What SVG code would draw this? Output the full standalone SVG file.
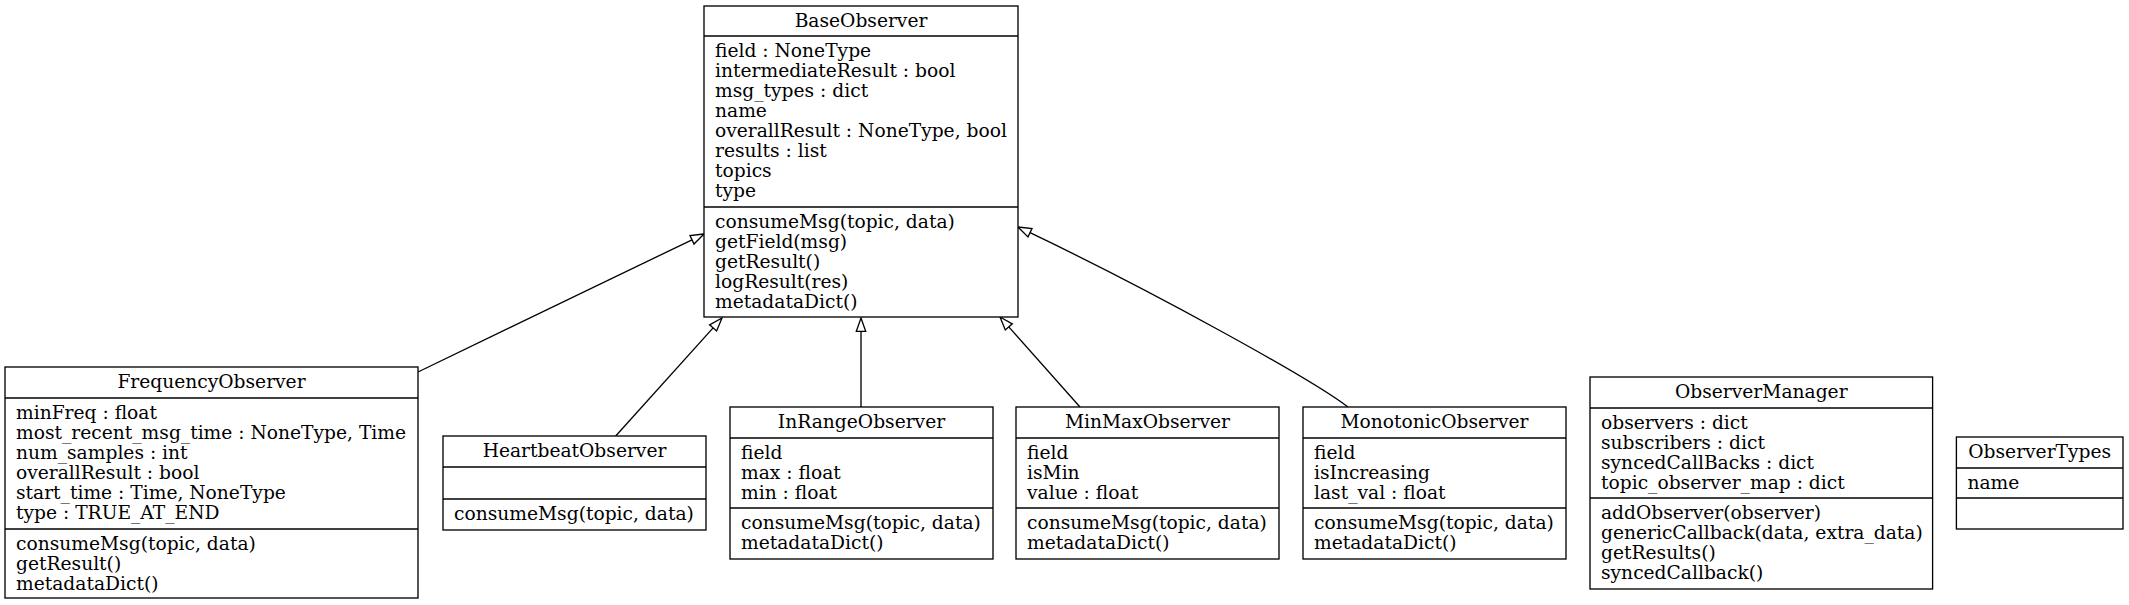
<svg xmlns="http://www.w3.org/2000/svg" width="2129" height="605" viewBox="0 0 2129 605">
<style>
rect.b{fill:#fff;stroke:#000;stroke-width:1.33}
line.s{stroke:#000;stroke-width:1.33}
text{font-family:"DejaVu Serif",serif;font-size:18.67px;fill:#000}
text.t{text-anchor:middle}
.e{fill:none;stroke:#000;stroke-width:1.33}
.h{fill:#fff;stroke:#000;stroke-width:1.33}
</style>
<rect width="2129" height="605" fill="#fff"/>
<g id="connectors">
<path class="e" d="M418,372 L692,239.8"/>
<polygon class="h" points="704,234 694,244 690,235.6"/>
<path class="e" d="M615.7,436 L713.1,327.9"/>
<polygon class="h" points="722,318 716.6,331 709.6,324.8"/>
<path class="e" d="M861,407 L861,331.3"/>
<polygon class="h" points="861,318 865.7,331.3 856.3,331.3"/>
<path class="e" d="M1080,407 L1008.8,326.9"/>
<polygon class="h" points="1000,317 1012.3,323.8 1005.3,330"/>
<path class="e" d="M1348,407 C1310,378 1150,290 1030,232.7"/>
<polygon class="h" points="1018,227 1032,228.5 1028,236.9"/>
</g>
<g id="BaseObserver">
<rect class="b" x="704" y="6" width="314" height="311"/>
<line class="s" x1="704" y1="36" x2="1018" y2="36"/>
<line class="s" x1="704" y1="207" x2="1018" y2="207"/>
<text class="t" x="861" y="27">BaseObserver</text>
<text x="715" y="57">field : NoneType</text>
<text x="715" y="77">intermediateResult : bool</text>
<text x="715" y="97">msg_types : dict</text>
<text x="715" y="117">name</text>
<text x="715" y="137">overallResult : NoneType, bool</text>
<text x="715" y="157">results : list</text>
<text x="715" y="177">topics</text>
<text x="715" y="197">type</text>
<text x="715" y="228">consumeMsg(topic, data)</text>
<text x="715" y="248">getField(msg)</text>
<text x="715" y="268">getResult()</text>
<text x="715" y="288">logResult(res)</text>
<text x="715" y="308">metadataDict()</text>
</g>
<g id="FrequencyObserver">
<rect class="b" x="5" y="367" width="413" height="231"/>
<line class="s" x1="5" y1="398" x2="418" y2="398"/>
<line class="s" x1="5" y1="529" x2="418" y2="529"/>
<text class="t" x="211.5" y="388">FrequencyObserver</text>
<text x="16" y="419">minFreq : float</text>
<text x="16" y="439">most_recent_msg_time : NoneType, Time</text>
<text x="16" y="459">num_samples : int</text>
<text x="16" y="479">overallResult : bool</text>
<text x="16" y="499">start_time : Time, NoneType</text>
<text x="16" y="519">type : TRUE_AT_END</text>
<text x="16" y="550">consumeMsg(topic, data)</text>
<text x="16" y="570">getResult()</text>
<text x="16" y="590">metadataDict()</text>
</g>
<g id="HeartbeatObserver">
<rect class="b" x="443" y="436" width="263" height="94"/>
<line class="s" x1="443" y1="467" x2="706" y2="467"/>
<line class="s" x1="443" y1="499" x2="706" y2="499"/>
<text class="t" x="574.5" y="457">HeartbeatObserver</text>
<text x="454" y="520">consumeMsg(topic, data)</text>
</g>
<g id="InRangeObserver">
<rect class="b" x="730" y="407" width="263" height="152"/>
<line class="s" x1="730" y1="438" x2="993" y2="438"/>
<line class="s" x1="730" y1="508" x2="993" y2="508"/>
<text class="t" x="861.5" y="428">InRangeObserver</text>
<text x="741" y="459">field</text>
<text x="741" y="479">max : float</text>
<text x="741" y="499">min : float</text>
<text x="741" y="529">consumeMsg(topic, data)</text>
<text x="741" y="549">metadataDict()</text>
</g>
<g id="MinMaxObserver">
<rect class="b" x="1016" y="407" width="263" height="152"/>
<line class="s" x1="1016" y1="438" x2="1279" y2="438"/>
<line class="s" x1="1016" y1="508" x2="1279" y2="508"/>
<text class="t" x="1147.5" y="428">MinMaxObserver</text>
<text x="1027" y="459">field</text>
<text x="1027" y="479">isMin</text>
<text x="1027" y="499">value : float</text>
<text x="1027" y="529">consumeMsg(topic, data)</text>
<text x="1027" y="549">metadataDict()</text>
</g>
<g id="MonotonicObserver">
<rect class="b" x="1303" y="407" width="263" height="152"/>
<line class="s" x1="1303" y1="438" x2="1566" y2="438"/>
<line class="s" x1="1303" y1="508" x2="1566" y2="508"/>
<text class="t" x="1434.5" y="428">MonotonicObserver</text>
<text x="1314" y="459">field</text>
<text x="1314" y="479">isIncreasing</text>
<text x="1314" y="499">last_val : float</text>
<text x="1314" y="529">consumeMsg(topic, data)</text>
<text x="1314" y="549">metadataDict()</text>
</g>
<g id="ObserverManager">
<rect class="b" x="1590" y="377" width="342.6" height="212"/>
<line class="s" x1="1590" y1="408" x2="1932.6" y2="408"/>
<line class="s" x1="1590" y1="498" x2="1932.6" y2="498"/>
<text class="t" x="1761.3" y="398">ObserverManager</text>
<text x="1601" y="429">observers : dict</text>
<text x="1601" y="449">subscribers : dict</text>
<text x="1601" y="469">syncedCallBacks : dict</text>
<text x="1601" y="489">topic_observer_map : dict</text>
<text x="1601" y="519">addObserver(observer)</text>
<text x="1601" y="539">genericCallback(data, extra_data)</text>
<text x="1601" y="559">getResults()</text>
<text x="1601" y="579">syncedCallback()</text>
</g>
<g id="ObserverTypes">
<rect class="b" x="1956.4" y="437" width="166.6" height="92"/>
<line class="s" x1="1956.4" y1="468" x2="2123" y2="468"/>
<line class="s" x1="1956.4" y1="498" x2="2123" y2="498"/>
<text class="t" x="2039.7" y="458">ObserverTypes</text>
<text x="1967.4" y="489">name</text>
</g>
</svg>
